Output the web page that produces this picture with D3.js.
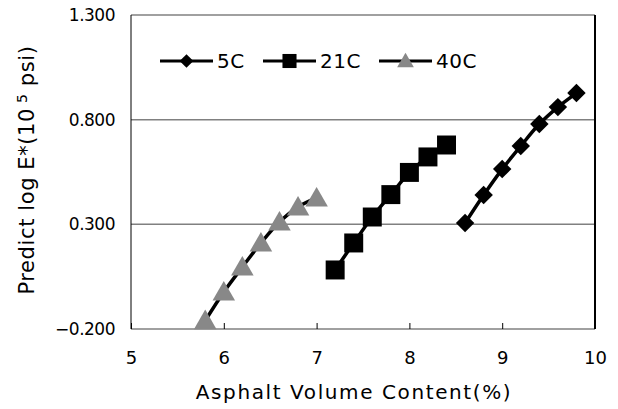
<!DOCTYPE html>
<html>
<head>
<meta charset="utf-8">
<script src="https://cdn.jsdelivr.net/npm/d3@7"></script>
<style>
  body { margin: 0; background: #fff; }
  text { font-family: "DejaVu Sans", Arial, sans-serif; fill: #000; }
</style>
</head>
<body>
<div id="chart-area"></div>
<script>
// Data
const x5C = [8.6, 8.8, 9.0, 9.2, 9.4, 9.6, 9.8]
const y5C = [0.306, 0.44, 0.564, 0.674, 0.779, 0.86, 0.927]
const x21C = [7.2, 7.4, 7.6, 7.8, 8.0, 8.2, 8.4]
const y21C = [0.082, 0.211, 0.335, 0.442, 0.548, 0.622, 0.679]
const x40C = [5.8, 6.0, 6.2, 6.4, 6.6, 6.8, 7.0]
const y40C = [-0.16, -0.023, 0.096, 0.211, 0.311, 0.383, 0.426]
const seriesNames = ["5C", "21C", "40C"]
const xTicks = [5, 6, 7, 8, 9, 10]
const yTicks = [-0.2, 0.3, 0.8, 1.3]

const MARGIN = { LEFT: 131, RIGHT: 23, TOP: 15, BOTTOM: 80 }
const W = 618, H = 409
const WIDTH = W - MARGIN.LEFT - MARGIN.RIGHT
const HEIGHT = H - MARGIN.TOP - MARGIN.BOTTOM

const svg = d3.select("#chart-area").append("svg")
    .attr("width", W)
    .attr("height", H)

const g = svg.append("g")
    .attr("transform", `translate(${MARGIN.LEFT}, ${MARGIN.TOP})`)

const x = d3.scaleLinear().domain([5, 10]).range([0, WIDTH])
const y = d3.scaleLinear().domain([-0.2, 1.3]).range([HEIGHT, 0])

// gridlines (gray)
g.selectAll(".grid").data(yTicks).enter().append("line")
    .attr("x1", 0).attr("x2", WIDTH)
    .attr("y1", d => y(d)).attr("y2", d => y(d))
    .attr("stroke", "#808080").attr("stroke-width", 1.5)

// left and right frame
g.append("line").attr("x1", 0).attr("x2", 0).attr("y1", 0).attr("y2", HEIGHT)
    .attr("stroke", "#000").attr("stroke-width", 1)
g.append("line").attr("x1", WIDTH).attr("x2", WIDTH).attr("y1", 0).attr("y2", HEIGHT)
    .attr("stroke", "#000").attr("stroke-width", 2)

// X axis
const xAxisCall = d3.axisBottom(x).tickValues(xTicks).tickSize(-6).tickPadding(22)
    .tickFormat(d3.format("d"))
const xAxis = g.append("g")
    .attr("transform", `translate(0, ${HEIGHT})`)
    .call(xAxisCall)
xAxis.select(".domain").remove()
xAxis.selectAll(".tick line").attr("stroke", "#000")
xAxis.selectAll("text").attr("font-size", "18px").attr("dy", "0.71em")

// Y axis
const yAxisCall = d3.axisLeft(y).tickValues(yTicks).tickSize(0).tickPadding(16)
    .tickFormat(d => d3.format(".3f")(d).replace("-", "\u2013"))
const yAxis = g.append("g").call(yAxisCall)
yAxis.select(".domain").remove()
yAxis.selectAll("text").attr("font-size", "17px").attr("letter-spacing", "-0.5px")

// Labels
g.append("text")
    .attr("x", WIDTH / 2 - 9)
    .attr("y", HEIGHT + 70)
    .attr("font-size", "20px")
    .attr("text-anchor", "middle")
    .attr("letter-spacing", "1.6px")
    .text("Asphalt Volume Content(%)")

const yLabel = svg.append("text")
    .attr("transform", "translate(34, 170) rotate(-90)")
    .attr("font-size", "21px")
    .attr("text-anchor", "middle")
    .attr("letter-spacing", "0.6px")
yLabel.append("tspan").text("Predict log E*(10")
yLabel.append("tspan").attr("font-size", "14px").attr("dy", "-7").text(" 5")
yLabel.append("tspan").attr("dy", "7").text(" psi)")

// Series
const diamond = { draw: (ctx, size) => {
    const r = Math.sqrt(size / 2)
    ctx.moveTo(0, -r); ctx.lineTo(r, 0); ctx.lineTo(0, r); ctx.lineTo(-r, 0); ctx.closePath()
} }
const series = [
    { name: seriesNames[0], xs: x5C, ys: y5C, shape: diamond, size: 170, color: "#000" },
    { name: seriesNames[1], xs: x21C, ys: y21C, shape: d3.symbolSquare, size: 360, color: "#000" },
    { name: seriesNames[2], xs: x40C, ys: y40C, shape: d3.symbolTriangle, size: 220, color: "#888" }
]

const line = d3.line()
    .x(d => x(d[0]))
    .y(d => y(d[1]))
    .curve(d3.curveCatmullRom)

series.forEach(s => {
    const pts = s.xs.map((v, i) => [v, s.ys[i]])
    g.append("path")
        .attr("d", line(pts))
        .attr("fill", "none")
        .attr("stroke", "#000")
        .attr("stroke-width", 3.5)
    g.selectAll(null).data(pts).enter().append("path")
        .attr("d", d3.symbol().type(s.shape).size(s.size))
        .attr("transform", d => `translate(${x(d[0])}, ${y(d[1]) + (s.shape === d3.symbolTriangle ? 2 : 0)})`)
        .attr("fill", s.color)
})

// Legend
const legendX = [160, 263, 379]
const legend = svg.append("g").attr("transform", "translate(0, 61)")
series.forEach((s, i) => {
    const lx = legendX[i]
    legend.append("line")
        .attr("x1", lx).attr("x2", lx + 53)
        .attr("y1", 0).attr("y2", 0)
        .attr("stroke", "#000").attr("stroke-width", 3)
    legend.append("path")
        .attr("d", d3.symbol().type(s.shape).size(s.size * 0.55))
        .attr("transform", `translate(${lx + 26.5}, ${s.shape === d3.symbolTriangle ? 1.5 : 0})`)
        .attr("fill", s.color)
    legend.append("text")
        .attr("x", lx + 57)
        .attr("y", 0)
        .attr("dy", "0.36em")
        .attr("font-size", "20px")
        .attr("letter-spacing", "0.5px")
        .text(s.name)
})
</script>
</body>
</html>
